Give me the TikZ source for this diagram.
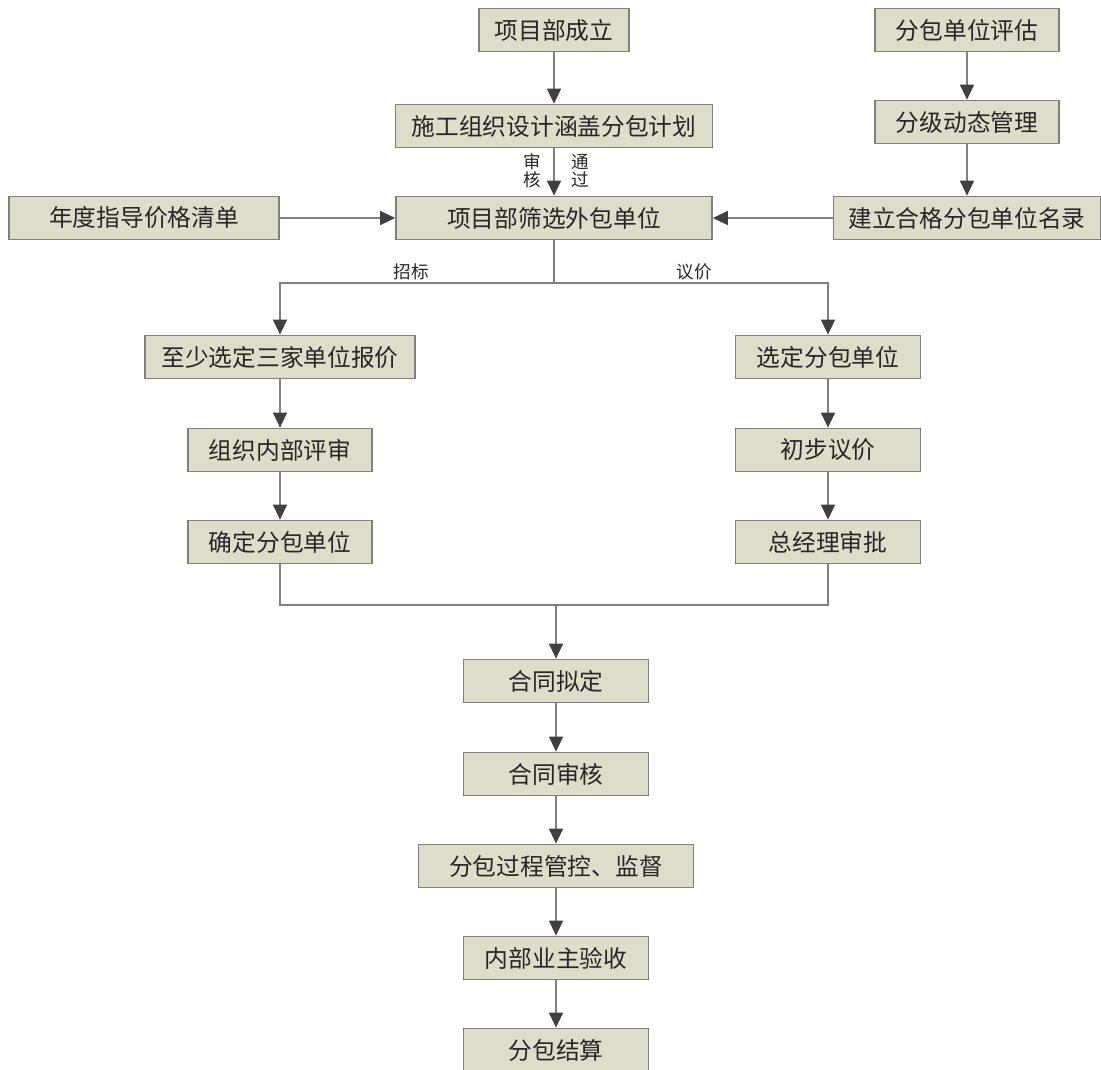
\documentclass[tikz,border=0pt]{standalone}
\usepackage{fontspec}
\newfontfamily\cjk{Noto Sans CJK SC}
\usetikzlibrary{arrows.meta}
\definecolor{kuangse}{RGB}{220,222,202}
\definecolor{xianse}{RGB}{128,128,128}
\definecolor{jiantou}{RGB}{64,64,64}
\begin{document}
\begin{tikzpicture}[x=0.02cm,y=-0.02cm]
				\tikzset{kuang/.style={draw=xianse,line width=1pt,fill=kuangse,minimum height=0.86cm,inner sep=0pt,text=black!85,font=\cjk\fontsize{13.5}{16}\selectfont}}
				\tikzset{xian/.style={draw=xianse,line width=0.8pt}}
				\tikzset{jt/.style={xian,-{Triangle[length=0.3cm,width=0.28cm,color=jiantou]}}}
				\tikzset{biao/.style={inner sep=0pt,align=center,text=black!85,font=\cjk\fontsize{10}{10.5}\selectfont}}
				\useasboundingbox(0,0)rectangle(1101,1069);
				% boxes
				\foreach \n/\x/\y/\w/\t in {cl/554/30/3/项目部成立,sg/554/126/6.34/施工组织设计涵盖分包计划,sx/554/218/6.32/项目部筛选外包单位,nd/144/218/5.4/年度指导价格清单,pg/967/30/3.68/分包单位评估,fj/967/122/3.68/分级动态管理,ml/967/218/5.34/建立合格分包单位名录,bj/280/357/5.4/至少选定三家单位报价,ps/280/450/3.68/组织内部评审,qd/280/542/3.68/确定分包单位,xd/828/357/3.7/选定分包单位,yj/828/450/3.7/初步议价,sp/828/542/3.7/总经理审批,ht/556/681/3.7/合同拟定,sh/556/774/3.7/合同审核,gk/556/866/5.5/分包过程管控、监督,ys/556/958/3.7/内部业主验收,js/556/1050/3.7/分包结算}
				\node[kuang,minimum width=\w cm](\n)at(\x,\y){\t};
				\foreach \a/\b in {cl/sg,sg/sx,nd/sx,ml/sx,pg/fj,fj/ml,bj/ps,ps/qd,xd/yj,yj/sp,ht/sh,sh/gk,gk/ys,ys/js}
				\draw[jt](\a)--(\b);
				\node[biao](sh1)at(532,171){审\\核};
				\node[biao](tg1)at(580,171){通\\过};
				% branches
				\coordinate(fc)at(554,283);
				\coordinate(hl)at(556,605);
				\draw[xian](sx)--(fc);
				\draw[jt](fc)-|(bj);
				\draw[jt](fc)-|(xd);
				\node[biao](zb)at(411,272){招标};
				\node[biao](yjb)at(694,272){议价};
				\draw[xian](qd)|-(hl)-|(sp);
				\draw[jt](hl)--(ht);
\end{tikzpicture}
\end{document}
